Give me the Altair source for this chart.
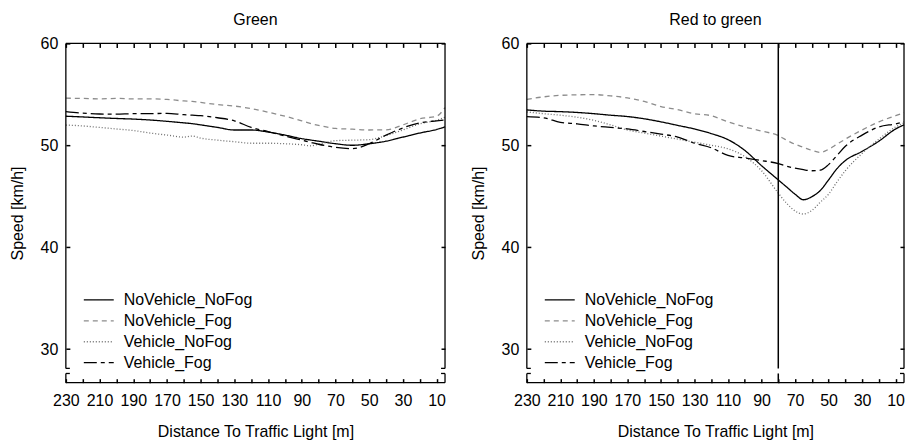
import altair as alt
import pandas as pd

FONT = "Liberation Sans"

SERIES = ["NoVehicle_NoFog", "NoVehicle_Fog", "Vehicle_NoFog", "Vehicle_Fog"]
COLORS = ["#000000", "#8c8c8c", "#6e6e6e", "#000000"]
DASHES = [[1, 0], [5, 4], [1, 2], [13, 4, 4, 4]]

X_TICKS = list(range(230, 0, -10))
Y_TICKS = [30, 40, 50, 60]

# Green panel
LEFT_D = [230, 220, 210, 200, 190, 180, 170, 160, 155, 150, 140, 130, 120,
          110, 100, 90, 85, 80, 70, 60, 50, 40, 30, 20, 10, 5]
L_NN = [52.85, 52.78, 52.7, 52.63, 52.57, 52.48, 52.35, 52.2, 52.12, 52.0, 51.75, 51.5, 51.5,
        51.3, 51.0, 50.65, 50.52, 50.4, 50.15, 50.0, 50.15, 50.4, 50.8, 51.2, 51.55, 51.8]
L_NF = [54.62, 54.6, 54.55, 54.6, 54.55, 54.55, 54.5, 54.35, 54.3, 54.2, 54.0, 53.85, 53.6,
        53.25, 52.85, 52.4, 52.15, 51.95, 51.65, 51.58, 51.5, 51.52, 52.0, 52.6, 52.85, 53.7]
L_VN = [51.98, 51.9, 51.75, 51.6, 51.45, 51.2, 51.0, 50.8, 50.9, 50.7, 50.5, 50.35, 50.2,
        50.2, 50.15, 50.05, 49.95, 50.1, 50.45, 50.5, 50.55, 50.95, 51.5, 52.1, 52.45, 52.75]
L_VF = [53.3, 53.15, 53.07, 53.05, 53.1, 53.1, 53.14, 53.0, 52.95, 52.9, 52.7, 52.4, 51.75,
        51.35, 50.9, 50.5, 50.3, 50.1, 49.8, 49.67, 50.15, 51.0, 51.7, 52.2, 52.4, 52.48]

# Red to green panel
RIGHT_D = [230, 220, 210, 200, 190, 180, 170, 160, 150, 140, 130, 120, 110, 100,
           90, 80, 75, 70, 65, 60, 55, 50, 45, 40, 30, 20, 10, 5]
R_NN = [53.47, 53.35, 53.3, 53.22, 53.1, 52.95, 52.82, 52.6, 52.3, 51.95, 51.6, 51.15, 50.55, 49.5,
        48.0, 46.6, 45.9, 45.2, 44.65, 44.95, 45.55, 46.6, 47.7, 48.5, 49.4, 50.4, 51.6, 52.0]
R_NF = [54.5, 54.75, 54.9, 54.95, 54.97, 54.85, 54.65, 54.3, 53.8, 53.5, 53.1, 52.9, 52.3, 51.8,
        51.4, 50.95, 50.5, 50.1, 49.8, 49.5, 49.3, 49.6, 50.1, 50.6, 51.5, 52.3, 52.9, 53.2]
R_VN = [53.27, 53.1, 52.95, 52.75, 52.45, 52.0, 51.5, 51.2, 50.9, 50.6, 50.3, 50.0, 49.65, 48.9,
        47.5, 45.3, 44.3, 43.55, 43.25, 43.6, 44.4, 45.2, 46.4, 47.5, 49.2, 50.6, 51.8, 52.2]
R_VF = [52.81, 52.7, 52.25, 52.1, 51.9, 51.75, 51.6, 51.35, 51.1, 50.8, 50.2, 49.75, 49.0, 48.75,
        48.5, 48.2, 47.95, 47.75, 47.6, 47.5, 47.55, 48.1, 49.0, 49.9, 51.0, 51.8, 52.1, 52.3]

VLINE_D = [80]

Y_MAX = 60
Y_MIN = 26.7
BREAK_HI = 28.1
BREAK_LO = 27.6
X_DOMAIN = [230, 5]
H = 340
TICK = 4
CAP = 4


def tick_axis(size):
    return dict(ticks=True, tickSize=size, tickColor="black", tickWidth=1.5,
                tickOpacity=1, offset=-size, domain=False, grid=False)


def panel(title, dists, vals, width, vline=None):
    rows = []
    for name, ys in zip(SERIES, vals):
        for d, v in zip(dists, ys):
            rows.append({"d": d, "v": v, "series": name})
    df = pd.DataFrame(rows)

    xscale = alt.Scale(domain=X_DOMAIN, nice=False, zero=False)
    yscale = alt.Scale(domain=[Y_MIN, Y_MAX], nice=False, zero=False)

    xenc = alt.X("d:Q", scale=xscale, title="Distance To Traffic Light [m]",
                 axis=alt.Axis(orient="bottom", values=X_TICKS,
                               labelExpr="datum.value % 20 == 10 ? datum.label : ''",
                               labelFlush=False, labelOverlap=False, labelPadding=10,
                               titleY=41 + TICK, titleBaseline="top", **tick_axis(TICK)))
    yenc = alt.Y("v:Q", scale=yscale, title="Speed [km/h]",
                 axis=alt.Axis(orient="left", values=Y_TICKS, labelPadding=8,
                               labelOverlap=False,
                               titleX=-48 - TICK, titleY=H / 2, titleAngle=-90,
                               titleAlign="center", titleBaseline="middle", **tick_axis(TICK)))

    leg = alt.Legend(orient="none", legendX=17, legendY=249, title=None,
                     symbolType="stroke", symbolSize=900, symbolStrokeWidth=1.3,
                     labelFontSize=16, labelFont=FONT, labelColor="black",
                     clipHeight=16, rowPadding=5, labelOffset=9, padding=0)

    lines = alt.Chart(df).mark_line(interpolate="monotone", strokeWidth=1.3).encode(
        x=xenc, y=yenc,
        color=alt.Color("series:N", scale=alt.Scale(domain=SERIES, range=COLORS), legend=leg),
        strokeDash=alt.StrokeDash("series:N", scale=alt.Scale(domain=SERIES, range=DASHES), legend=leg),
    )

    # invisible layer that carries the inward top and right tick axes
    mirror = alt.Chart(df).mark_point(opacity=0, size=1).encode(
        x=alt.X("d:Q", scale=xscale, title=None,
                axis=alt.Axis(orient="top", values=X_TICKS, labels=False, title=None,
                              **tick_axis(TICK))),
        y=alt.Y("v:Q", scale=yscale, title=None,
                axis=alt.Axis(orient="right", values=Y_TICKS, labels=False, title=None,
                              **tick_axis(TICK))),
    )

    one = alt.Data(values=[{}])
    frame_style = dict(color="black", strokeWidth=1.3)
    layers = [lines, mirror]
    for yp in (0, H):
        layers.append(alt.Chart(one).mark_rule(**frame_style).encode(
            x=alt.value(0), x2=alt.value(width), y=alt.value(yp)))
    for xp, cap in [(0, CAP), (width, width - CAP)]:
        layers.append(alt.Chart(one).mark_rule(**frame_style).encode(
            x=alt.value(xp), y=alt.YDatum(Y_MAX, scale=yscale, axis=None), y2=alt.datum(BREAK_HI)))
        layers.append(alt.Chart(one).mark_rule(**frame_style).encode(
            x=alt.value(xp), y=alt.YDatum(BREAK_LO, scale=yscale, axis=None), y2=alt.datum(Y_MIN)))
        for yb in (BREAK_HI, BREAK_LO):
            layers.append(alt.Chart(one).mark_rule(**frame_style).encode(
                x=alt.value(xp), x2=alt.value(cap), y=alt.YDatum(yb, scale=yscale, axis=None)))
    if vline is not None:
        vd = pd.DataFrame({"d": vline})
        vx = alt.X("d:Q", scale=xscale, axis=None)
        layers.append(alt.Chart(vd).mark_rule(color="black", strokeWidth=1.5).encode(
            x=vx, y=alt.YDatum(Y_MAX, scale=yscale, axis=None), y2=alt.datum(BREAK_HI)))
        layers.append(alt.Chart(vd).mark_rule(color="black", strokeWidth=1.5).encode(
            x=vx, y=alt.YDatum(BREAK_LO, scale=yscale, axis=None), y2=alt.datum(Y_MIN)))

    return alt.layer(*layers).properties(
        width=width, height=H,
        title=alt.TitleParams(title, fontSize=16, fontWeight="normal", font=FONT,
                              color="black", anchor="middle", offset=7),
    )


left = panel("Green", LEFT_D, [L_NN, L_NF, L_VN, L_VF], 380)
right = panel("Red to green", RIGHT_D, [R_NN, R_NF, R_VN, R_VF], 378, vline=VLINE_D)

chart = alt.hconcat(left, right, spacing=82).resolve_legend(
    color="independent", strokeDash="independent"
).properties(
    bounds="flush",
    padding={"left": 10, "top": 12, "right": 0, "bottom": 0},
    background="white",
).configure_view(stroke=None).configure_axis(
    labelFont=FONT, titleFont=FONT, labelFontSize=16, titleFontSize=16,
    labelColor="black", titleColor="black", titleFontWeight="normal",
)

chart.save("out.html", embed_options={"renderer": "svg", "actions": False})
